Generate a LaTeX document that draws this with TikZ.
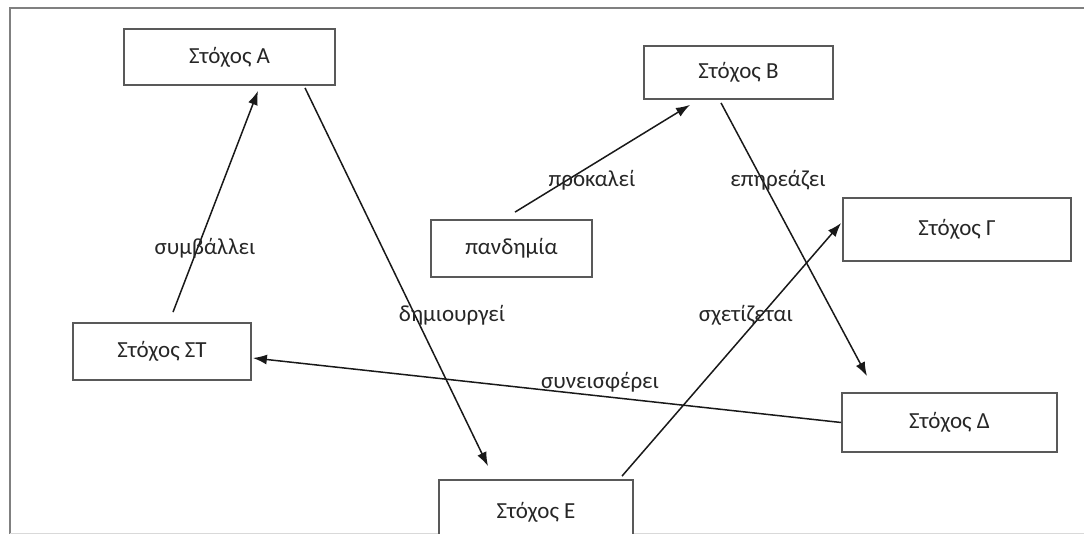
\documentclass[tikz,border=0pt]{standalone}
\usepackage{fontspec}
\setmainfont{Carlito}
\usetikzlibrary{arrows.meta}

\begin{document}
\begin{tikzpicture}[x=1pt,y=-1pt,>={Latex[length=14pt,width=10pt]},
  goal/.style={draw=black!65,line width=1.8pt,fill=white,inner sep=0pt,
    font=\fontsize{23}{26}\selectfont,text=black!85},
  rel/.style={->,line width=1.5pt,black!90},
  lbl/.style={font=\fontsize{23}{26}\selectfont,text=black!85,inner sep=0pt}]
  \useasboundingbox (0,0) rectangle (1084,534);
  % frame
  \draw[black!50,line width=2pt] (1090,8) -- (10,8) -- (10,540);
  \draw[black!15,line width=1pt] (10,533) -- (1084,533);
  % goals
  \node[goal,minimum width=211pt,minimum height=56pt] (a)  at (229.5,57)  {Στόχος Α};
  \node[goal,minimum width=189pt,minimum height=53pt] (b)  at (738.5,72.5) {Στόχος Β};
  \node[goal,minimum width=161pt,minimum height=57pt] (p)  at (511.5,248.5) {πανδημία};
  \node[goal,minimum width=228pt,minimum height=63pt] (g)  at (957,229.5) {Στόχος Γ};
  \node[goal,minimum width=178pt,minimum height=57pt] (st) at (162,351.5) {Στόχος ΣΤ};
  \node[goal,minimum width=215pt,minimum height=59pt] (d)  at (949.5,422.5) {Στόχος Δ};
  \node[goal,minimum width=194pt,minimum height=64pt] (e)  at (536,512) {Στόχος Ε};
  % relations
  \draw[rel] ([xshift=11pt,yshift=10pt]st.north) -- ([xshift=28.5pt,yshift=-5pt]a.south);
  \draw[rel] ([xshift=75.5pt,yshift=-2pt]a.south) -- ([xshift=-48pt,yshift=13pt]e.north);
  \draw[rel] ([xshift=3.5pt,yshift=7pt]p.north) -- ([xshift=-48.5pt,yshift=-5pt]b.south);
  \draw[rel] ([xshift=-17.5pt,yshift=-3pt]b.south) -- ([xshift=-82.5pt,yshift=16pt]d.north);
  \draw[rel] ([xshift=86pt,yshift=3pt]e.north) -- ([xshift=-1pt,yshift=6.5pt]g.west);
  \draw[rel] (d.west) -- ([xshift=1pt,yshift=-6.5pt]st.east);
  % labels
  \node[lbl] (lsym) at (205,248) {συμβάλλει};
  \node[lbl] (ldim) at (452,315) {δημιουργεί};
  \node[lbl] (lpro) at (592,180) {προκαλεί};
  \node[lbl] (lepi) at (778,180) {επηρεάζει};
  \node[lbl] (lsxe) at (746,315) {σχετίζεται};
  \node[lbl] (lsyn) at (600,382) {συνεισφέρει};
\end{tikzpicture}
\end{document}
